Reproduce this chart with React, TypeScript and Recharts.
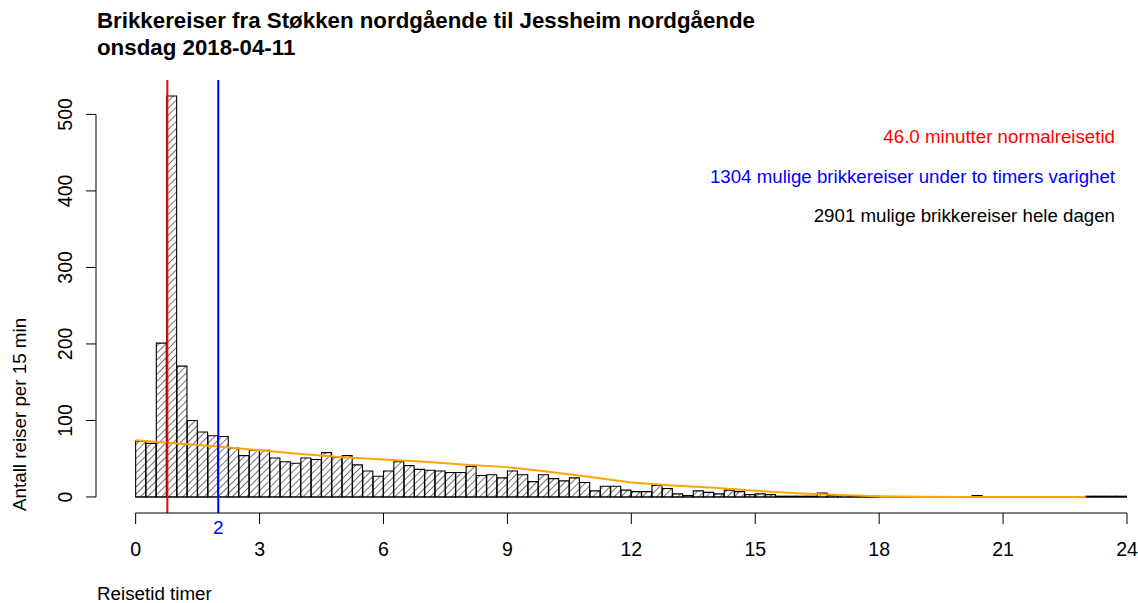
import { Bar, ComposedChart, Line, ReferenceLine, XAxis, YAxis } from "recharts"

// antall brikkereiser per kvarter reisetid (96 kvarter = 24 timer)
const counts = [
  73, 70, 201, 524, 171, 100, 85, 80, 79, 64,
  54, 61, 61, 51, 46, 44, 51, 49, 58, 52,
  54, 42, 34, 27, 34, 46, 41, 36, 35, 34,
  32, 32, 40, 28, 29, 25, 34, 29, 20, 29,
  24, 21, 25, 19, 8, 14, 14, 9, 7, 7,
  15, 11, 4, 2, 8, 6, 4, 9, 7, 3,
  4, 3, 1, 1, 1, 1, 5, 2, 2, 1,
  1, 1, 0, 0, 0, 0, 0, 0, 0, 0,
  0, 2, 0, 0, 0, 0, 0, 0, 0, 0,
  0, 0, 1, 1, 1, 1,
]
const binHours = 0.25

// glattet kurve, en verdi per time
const smoothHours = [0, 1, 2, 3, 4, 5, 6, 7, 8, 9, 10, 11, 12, 13, 14, 15, 16, 17, 18, 19, 20, 21, 22, 23]
const smoothValues = [74, 70, 66, 61, 56, 52, 49, 46, 42, 39, 33, 26, 19, 15, 12, 8, 5, 2.5, 1, 0.3, 0, 0, 0, 0]

const xTicks = [0, 3, 6, 9, 12, 15, 18, 21, 24]
const yTicks = [0, 100, 200, 300, 400, 500]

const normalMinutes = 46.0
const limitHours = 2
const totalTrips = 2901
const tripsUnderLimit = 1304

const title1 = "Brikkereiser fra Støkken nordgående til Jessheim nordgående"
const title2 = "onsdag 2018-04-11"

const histData = counts.map((n, i) => ({ mid: i * binHours + binHours / 2, n }))
const smoothData = smoothHours.map((h, i) => ({ h, v: smoothValues[i] }))

const maxX = 24
const xPad = maxX * 0.04
const yMax = Math.max(...counts)
const yPad = yMax * 0.04

const FONT = "'Liberation Sans', Arial, sans-serif"
const TICK_SIZE = 19.5

const YTick = ({ x, y, payload }: any) => (
  <text
    x={x}
    y={y}
    transform={`rotate(-90 ${x} ${y})`}
    textAnchor="middle"
    fontSize={TICK_SIZE}
    fontFamily={FONT}
    fill="#000"
  >
    {payload.value}
  </text>
)

const XTick = ({ x, y, payload }: any) => (
  <text x={x} y={y + 32} textAnchor="middle" fontSize={TICK_SIZE} fontFamily={FONT} fill="#000">
    {payload.value}
  </text>
)

export default function App() {
  return (
    <div style={{ position: "absolute", left: 0, top: 0, width: 1138, height: 603, background: "#fff" }}>
      <svg width={0} height={0} style={{ position: "absolute" }}>
        <defs>
          <pattern
            id="hatch"
            patternUnits="userSpaceOnUse"
            width={5}
            height={5}
            patternTransform="rotate(45)"
          >
            <line x1={0} y1={0} x2={0} y2={5} stroke="#000" strokeWidth={1.1} />
          </pattern>
        </defs>
      </svg>

      <ComposedChart
        width={1138}
        height={603}
        data={histData}
        margin={{ top: 80, right: 11, bottom: 30, left: 36 }}
        barCategoryGap={0}
        barGap={0}
      >
        <XAxis
          xAxisId="hist"
          dataKey="mid"
          type="number"
          domain={[-xPad, maxX]}
          allowDataOverflow
          ticks={xTicks}
          interval={0}
          axisLine={false}
          tickLine={{ stroke: "#000" }}
          tickSize={11}
          tickMargin={0}
          tick={<XTick />}
          height={60}
        />
        <XAxis xAxisId="smooth" dataKey="h" type="number" domain={[-xPad, maxX]} allowDataOverflow hide />
        <YAxis
          type="number"
          domain={[-yPad, yMax + yPad]}
          allowDataOverflow
          ticks={yTicks}
          interval={0}
          axisLine={false}
          tickLine={{ stroke: "#000" }}
          tickSize={10}
          tickMargin={14}
          tick={<YTick />}
          width={60}
        />
        <Bar
          xAxisId="hist"
          dataKey="n"
          fill="url(#hatch)"
          stroke="#000"
          strokeWidth={1.1}
          isAnimationActive={false}
        />
        <ReferenceLine
          xAxisId="hist"
          segment={[{ x: 0, y: 0 }, { x: maxX, y: 0 }]}
          stroke="#000"
          strokeWidth={1}
          ifOverflow="visible"
        />
        <Line
          xAxisId="smooth"
          data={smoothData}
          dataKey="v"
          type="linear"
          stroke="#FFA500"
          strokeWidth={2}
          dot={false}
          isAnimationActive={false}
        />
        <ReferenceLine xAxisId="hist" x={normalMinutes / 60} stroke="#FF0000" strokeWidth={2} />
        <ReferenceLine
          xAxisId="hist"
          x={limitHours}
          stroke="#0000FF"
          strokeWidth={2}
          label={{ value: String(limitHours), position: "bottom", offset: 8, fill: "#0000FF", fontSize: 19, fontFamily: FONT }}
        />
        {/* akselinjer som i R: bare fra første til siste tick */}
        <ReferenceLine
          xAxisId="hist"
          segment={[{ x: 0, y: -yPad }, { x: maxX, y: -yPad }]}
          stroke="#000"
          strokeWidth={1}
          ifOverflow="visible"
        />
        <ReferenceLine
          xAxisId="hist"
          segment={[{ x: -xPad, y: 0 }, { x: -xPad, y: 500 }]}
          stroke="#000"
          strokeWidth={1}
          ifOverflow="visible"
        />
      </ComposedChart>

      <svg
        width={1138}
        height={603}
        style={{ position: "absolute", left: 0, top: 0, pointerEvents: "none" }}
        fontFamily={FONT}
      >
        <text x={97} y={28} fontSize={22.3} fontWeight="bold" fill="#000">{title1}</text>
        <text x={97} y={55} fontSize={22.3} fontWeight="bold" fill="#000">{title2}</text>
        <text x={1115} y={143} fontSize={18.7} textAnchor="end" fill="#FF0000">
          {normalMinutes.toFixed(1)} minutter normalreisetid
        </text>
        <text x={1115} y={183} fontSize={18.7} textAnchor="end" fill="#0000FF">
          {tripsUnderLimit} mulige brikkereiser under to timers varighet
        </text>
        <text x={1115} y={222} fontSize={18.7} textAnchor="end" fill="#000">
          {totalTrips} mulige brikkereiser hele dagen
        </text>
        <text x={26} y={511} fontSize={18.8} transform="rotate(-90 26 511)" fill="#000">
          Antall reiser per 15 min
        </text>
        <text x={97} y={600} fontSize={18.8} fill="#000">Reisetid timer</text>
      </svg>
    </div>
  )
}
